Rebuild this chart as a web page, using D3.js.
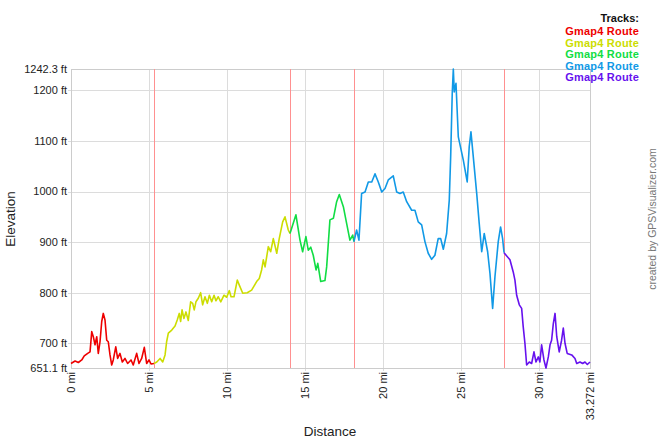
<!DOCTYPE html>
<html>
<head>
<meta charset="utf-8">
<script src="https://cdn.jsdelivr.net/npm/d3@7"></script>
<style>
  body { margin: 0; background: #fff; }
  svg { display: block; font-family: Arial, "Liberation Sans", sans-serif; }
</style>
</head>
<body>
<script>
// track data: [distance in mi, elevation in ft]
const track1 = [[0,660],[0.26,665],[0.47,662],[0.69,667],[0.85,675],[1.07,680],[1.22,683],[1.33,723],[1.43,713],[1.54,697],[1.65,713],[1.75,680],[1.86,703],[1.97,743],[2.07,759],[2.18,746],[2.29,706],[2.39,703],[2.5,677],[2.61,657],[2.71,667],[2.87,693],[2.99,670],[3.14,680],[3.29,663],[3.46,670],[3.63,660],[3.85,667],[3.99,657],[4.21,680],[4.36,660],[4.53,670],[4.7,692],[4.85,660],[5.0,667],[5.13,659],[5.32,660]];
const track2 = [[5.32,660],[5.5,663],[5.71,670],[5.88,663],[6.03,677],[6.13,703],[6.24,720],[6.46,726],[6.67,734],[6.81,746],[6.94,759],[7.03,743],[7.12,766],[7.24,749],[7.37,762],[7.52,745],[7.67,782],[7.8,779],[7.9,766],[8.01,782],[8.16,789],[8.31,800],[8.44,776],[8.59,792],[8.74,779],[8.87,795],[9.02,782],[9.17,795],[9.29,784],[9.44,792],[9.6,782],[9.81,795],[9.98,791],[10.15,804],[10.26,792],[10.45,792],[10.66,825],[10.79,815],[11.01,799],[11.3,800],[11.58,805],[11.9,822],[12.07,828],[12.22,845],[12.33,865],[12.44,851],[12.65,891],[12.8,881],[12.97,907],[13.19,878],[13.35,907],[13.57,940],[13.72,950],[13.93,924],[14.04,917]];
const track3 = [[14.04,917],[14.42,954],[14.68,904],[14.85,881],[15.06,911],[15.21,884],[15.37,890],[15.53,874],[15.71,845],[15.82,858],[16.01,822],[16.28,824],[16.39,851],[16.6,944],[16.82,947],[17.03,980],[17.2,994],[17.46,970],[17.67,937],[17.88,904],[18.06,914],[18.14,901]];
const track4 = [[18.14,901],[18.31,924],[18.46,904],[18.63,996],[18.85,999],[19.06,1019],[19.28,1019],[19.49,1035],[19.7,1019],[19.92,999],[20.13,1006],[20.34,1023],[20.66,1031],[20.88,999],[21.09,996],[21.3,999],[21.52,980],[21.84,963],[22.05,963],[22.26,940],[22.48,934],[22.69,901],[22.9,878],[23.12,866],[23.33,874],[23.54,907],[23.7,907],[23.87,886],[24.08,917],[24.25,983],[24.34,1069],[24.44,1194],[24.51,1242.3],[24.57,1197],[24.68,1214],[24.83,1108],[25.15,1062],[25.4,1019],[25.53,1089],[25.64,1118],[25.75,1082],[26.01,996],[26.17,937],[26.33,881],[26.49,917],[26.71,881],[26.86,838],[27.03,769],[27.18,832],[27.39,901],[27.54,930],[27.67,907],[27.76,879]];
const track5 = [[27.76,879],[28.14,865],[28.35,841],[28.46,825],[28.57,795],[28.74,776],[28.89,769],[28.99,733],[29.1,700],[29.21,657],[29.38,663],[29.53,660],[29.68,683],[29.81,663],[29.96,673],[30.06,663],[30.17,697],[30.32,667],[30.45,651.1],[30.6,673],[30.71,697],[30.81,706],[30.92,739],[31.03,759],[31.14,713],[31.3,683],[31.45,706],[31.56,730],[31.67,700],[31.81,680],[32.1,677],[32.31,670],[32.42,660],[32.63,663],[32.8,660],[32.95,663],[33.1,658],[33.272,663]];

const tracks = [track1, track2, track3, track4, track5];
const trackNames = ["Gmap4 Route", "Gmap4 Route", "Gmap4 Route", "Gmap4 Route", "Gmap4 Route"];
const trackColors = ["#ee0000", "#ccdd00", "#11dd44", "#1199e6", "#6611ee"];
const breaks = [5.32, 14.04, 18.14, 27.76];

const totalDist = 33.272;
const minElev = 651.1;
const maxElev = 1242.3;
const xTicks = [0, 5, 10, 15, 20, 25, 30];
const yTicks = [700, 800, 900, 1000, 1100, 1200];

const width = 659;
const height = 439;

const svg = d3.select("body").append("svg")
    .attr("width", width)
    .attr("height", height);

const x = d3.scaleLinear().domain([0, totalDist]).range([71, 590]);
const y = d3.scaleLinear().domain([minElev, maxElev]).range([368, 69]);

// grid
svg.append("g").selectAll("line")
    .data(yTicks)
    .enter().append("line")
    .attr("x1", x(0) - 3).attr("x2", x(totalDist))
    .attr("y1", d => Math.round(y(d)) + 0.5).attr("y2", d => Math.round(y(d)) + 0.5)
    .attr("stroke", "#dcdcdc");

svg.append("g").selectAll("line")
    .data(xTicks.slice(1))
    .enter().append("line")
    .attr("x1", d => Math.round(x(d)) + 0.5).attr("x2", d => Math.round(x(d)) + 0.5)
    .attr("y1", y(maxElev)).attr("y2", y(minElev) + 3)
    .attr("stroke", "#dcdcdc");

// frame
svg.append("rect")
    .attr("x", x(0) + 0.5).attr("y", Math.round(y(maxElev)) + 0.5)
    .attr("width", x(totalDist) - x(0))
    .attr("height", Math.round(y(minElev)) - Math.round(y(maxElev)))
    .attr("fill", "none")
    .attr("stroke", "#cccccc");

// track boundaries
svg.append("g").selectAll("line")
    .data(breaks)
    .enter().append("line")
    .attr("x1", d => Math.round(x(d)) + 0.5).attr("x2", d => Math.round(x(d)) + 0.5)
    .attr("y1", y(maxElev)).attr("y2", y(minElev))
    .attr("stroke", "#ff9090");

// profile
const line = d3.line()
    .x(d => x(d[0]))
    .y(d => y(d[1]));

svg.append("g").selectAll("path")
    .data(tracks)
    .enter().append("path")
    .attr("d", line)
    .attr("fill", "none")
    .attr("stroke", (d, i) => trackColors[i])
    .attr("stroke-width", 1.6)
    .attr("stroke-linejoin", "round");

// y labels
const yLabels = [minElev].concat(yTicks, [maxElev]);
svg.append("g").selectAll("text")
    .data(yLabels)
    .enter().append("text")
    .attr("x", 67)
    .attr("y", d => y(d))
    .attr("dy", "0.35em")
    .attr("text-anchor", "end")
    .attr("font-size", 11)
    .attr("fill", "#222")
    .text(d => d + " ft");

// x labels
const xLabels = xTicks.concat([totalDist]);
svg.append("g").selectAll("text")
    .data(xLabels)
    .enter().append("text")
    .attr("transform", d => `translate(${x(d)},372) rotate(-90)`)
    .attr("dy", "0.35em")
    .attr("text-anchor", "end")
    .attr("font-size", 11)
    .attr("fill", "#222")
    .text(d => d + " mi");

// axis titles
svg.append("text")
    .attr("x", 330).attr("y", 436)
    .attr("text-anchor", "middle")
    .attr("font-size", 13.5)
    .attr("fill", "#222")
    .text("Distance");

svg.append("text")
    .attr("transform", "translate(15,219) rotate(-90)")
    .attr("text-anchor", "middle")
    .attr("font-size", 13.5)
    .attr("fill", "#222")
    .text("Elevation");

// legend
svg.append("text")
    .attr("x", 639).attr("y", 22)
    .attr("text-anchor", "end")
    .attr("font-size", 11)
    .attr("font-weight", "bold")
    .attr("fill", "#111")
    .text("Tracks:");

svg.append("g").selectAll("text")
    .data(trackNames)
    .enter().append("text")
    .attr("x", 639)
    .attr("y", (d, i) => 35 + i * 11.5)
    .attr("text-anchor", "end")
    .attr("font-size", 11)
    .attr("font-weight", "bold")
    .attr("letter-spacing", 0.2)
    .attr("fill", (d, i) => trackColors[i])
    .text(d => d);

// credit
svg.append("text")
    .attr("transform", "translate(656,219) rotate(-90)")
    .attr("text-anchor", "middle")
    .attr("font-size", 10.5)
    .attr("fill", "#777")
    .text("created by GPSVisualizer.com");
</script>
</body>
</html>
